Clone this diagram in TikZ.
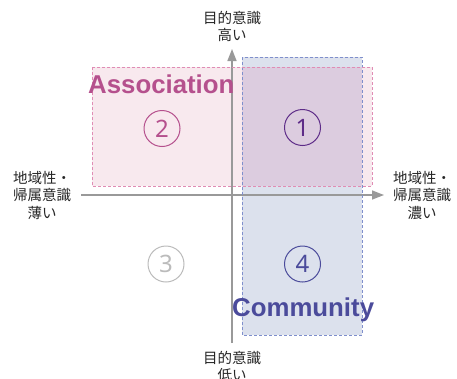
\documentclass[tikz,border=0pt]{standalone}
\usepackage{fontspec}
\newfontfamily\jp{Noto Sans CJK JP}
\newfontfamily\lat{Liberation Sans}
\newfontfamily\num{Noto Sans}
\usetikzlibrary{arrows.meta}
\definecolor{pinkfill}{HTML}{F8E9EE}
\definecolor{pinkline}{HTML}{E08CB4}
\definecolor{bluefill}{HTML}{DCE1ED}
\definecolor{blueline}{HTML}{7F8FCC}
\definecolor{overfill}{HTML}{DCCCDF}
\definecolor{assoc}{HTML}{B5508D}
\definecolor{commu}{HTML}{4B4B9B}
\definecolor{one}{HTML}{5E2C88}
\definecolor{three}{HTML}{BBBBBB}
\definecolor{axisgray}{HTML}{999999}
\tikzset{
  axisline/.style={draw=axisgray, line width=1.5pt},
  lab/.style={font=\jp\fontsize{14.5}{17.5}\selectfont, align=center, inner sep=0pt, text=black!85},
  dashbox/.style={dash pattern=on 3pt off 2pt, line width=0.9pt},
  numc/.style={circle, draw, line width=1pt, minimum size=36pt, inner sep=0pt, font=\num\fontsize{24}{24}\selectfont},
  bigword/.style={font=\lat\bfseries\fontsize{25.8}{26}\selectfont, inner sep=0pt, anchor=base west}
}
\begin{document}
\begin{tikzpicture}[x=1pt,y=-1pt]
\useasboundingbox (0,0) rectangle (457,378);
% fills
\fill[bluefill] (242,57) rectangle (362,335);
\fill[pinkfill] (92,67) rectangle (372,186);
\fill[overfill] (242,67) rectangle (362,186);
% axes
\coordinate (vb) at (232,343);
\coordinate (vt) at (232,49);
\coordinate (hl) at (81,195);
\coordinate (hr) at (384,195);
\draw[axisline, -{Triangle[length=12pt,width=9pt]}] (vb) -- (vt);
\draw[axisline, -{Triangle[length=12pt,width=9pt]}] (hl) -- (hr);
% borders
\draw[dashbox, blueline] (242,57) rectangle (362,335);
\draw[dashbox, pinkline] (92,67) rectangle (372,186);
% words
\node[bigword, text=assoc] (assocw) at (88,93) {Association};
\node[bigword, text=commu] (commw) at (232,316) {Community};
% circled numbers
\node[numc, draw=one, text=one] (n1) at (302.5,127.5) {1};
\node[numc, draw=assoc, text=assoc] (n2) at (162,128.5) {2};
\node[numc, draw=three, text=three] (n3) at (166,264) {3};
\node[numc, draw=commu, text=commu] (n4) at (302.5,264) {4};
% labels
\node[lab] (ltop) at (232,26.5) {目的意識\\高い};
\node[lab] (lbot) at (232,366.5) {目的意識\\低い};
\node[lab] (lleft) at (42,195) {地域性・\\帰属意識\\薄い};
\node[lab] (lright) at (422,195) {地域性・\\帰属意識\\濃い};
\end{tikzpicture}
\end{document}
